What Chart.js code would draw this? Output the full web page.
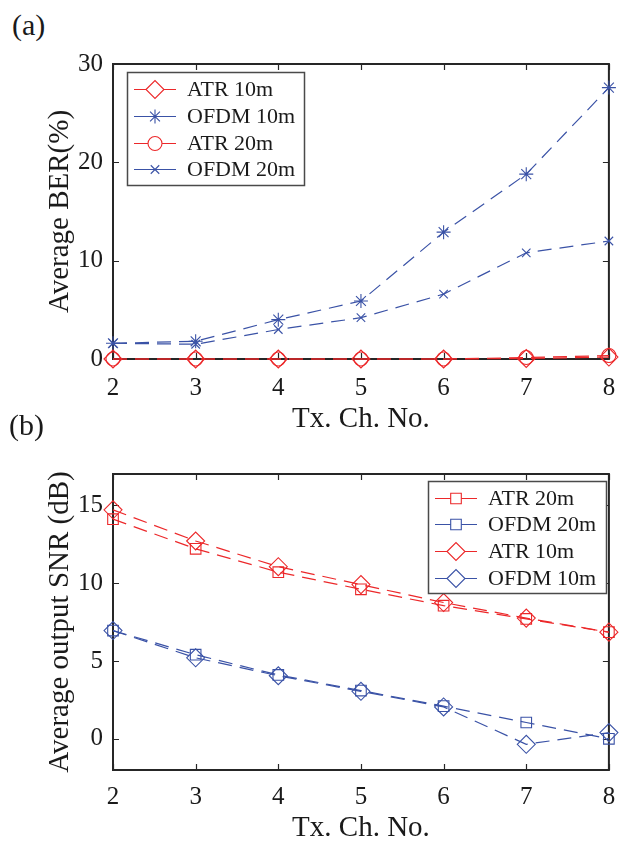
<!DOCTYPE html>
<html>
<head>
<meta charset="utf-8">
<script src="https://cdn.jsdelivr.net/npm/chart.js@4/dist/chart.umd.min.js"></script>
<style>
  html, body { margin: 0; padding: 0; background: #ffffff; }
  #wrap { position: relative; width: 619px; height: 850px; background: #fff; overflow: hidden; }
  canvas { position: absolute; left: 0; }
  .lbl { position: absolute; font-family: 'Liberation Serif', 'Times New Roman', serif; font-size: 30px; color: #1a1a1a; line-height: 1; }
</style>
</head>
<body>
<div id="wrap">
  <div class="lbl" style="left:12px; top:10px;">(a)</div>
  <canvas id="c1" width="619" height="440" style="top:0px;"></canvas>
  <div class="lbl" style="left:9px; top:410px;">(b)</div>
  <canvas id="c2" width="619" height="410" style="top:440px;"></canvas>
</div>
<script>
// ---------- DATA ----------
const channels = [2, 3, 4, 5, 6, 7, 8];
const xTicks = [2, 3, 4, 5, 6, 7, 8];

// (a) Average BER (%)
const berAtr10  = [0, 0, 0, 0, 0, 0.05, 0.2];
const berOfdm10 = [1.6, 1.8, 4.0, 5.9, 12.9, 18.8, 27.6];
const berAtr20  = [0, 0, 0, 0, 0, 0.15, 0.35];
const berOfdm20 = [1.6, 1.5, 3.0, 4.2, 6.6, 10.8, 12.0];
const berTicks  = [0, 10, 20, 30];

// (b) Average output SNR (dB)
const snrAtr20  = [14.1, 12.2, 10.7, 9.6, 8.55, 7.7, 6.85];
const snrOfdm20 = [6.95, 5.4, 4.1, 3.1, 2.1, 1.05, 0.0];
const snrAtr10  = [14.7, 12.7, 11.05, 9.9, 8.75, 7.75, 6.85];
const snrOfdm10 = [6.95, 5.2, 4.05, 3.05, 2.05, -0.35, 0.4];
const snrTicks  = [0, 5, 10, 15];

// ---------- STYLE ----------
const RED = 'rgb(236,40,42)';
const BLUE = 'rgb(58,82,166)';
const AXIS = '#262626';
const FONT = "'Liberation Serif', 'Times New Roman', serif";

function pts(arr) { return arr.map((v, i) => ({ x: channels[i], y: v })); }

function ds(label, data, color, style, radius) {
  return {
    label: label,
    data: pts(data),
    borderColor: color,
    backgroundColor: 'rgba(0,0,0,0)',
    borderWidth: 1.2,
    borderDash: [14, 8],
    pointStyle: style,
    pointRadius: radius,
    pointHoverRadius: radius,
    pointBorderColor: color,
    pointBackgroundColor: 'rgba(0,0,0,0)',
    pointBorderWidth: 1.1,
    tension: 0,
    fill: false,
    clip: false
  };
}

// MATLAB-like box with inward ticks
const boxPlugin = {
  id: 'boxPlugin',
  beforeDatasetsDraw(chart) {
    const { ctx, chartArea: a, scales } = chart;
    const tl = 6;
    ctx.save();
    ctx.strokeStyle = AXIS;
    ctx.lineWidth = 1.2;
    ctx.beginPath();
    scales.x.ticks.forEach(t => {
      const px = Math.round(scales.x.getPixelForValue(t.value)) + 0.5;
      ctx.moveTo(px, a.bottom); ctx.lineTo(px, a.bottom - tl);
      ctx.moveTo(px, a.top); ctx.lineTo(px, a.top + tl);
    });
    scales.y.ticks.forEach(t => {
      const py = Math.round(scales.y.getPixelForValue(t.value)) + 0.5;
      ctx.moveTo(a.left, py); ctx.lineTo(a.left + tl, py);
      ctx.moveTo(a.right, py); ctx.lineTo(a.right - tl, py);
    });
    ctx.stroke();
    ctx.lineWidth = 2;
    ctx.strokeRect(a.left, a.top, a.right - a.left, a.bottom - a.top);
    ctx.restore();
  }
};

// Legend drawn inside the axes
function legendPlugin(box, rows, lineX0, lineX1, textX) {
  return {
    id: 'boxLegend',
    afterDraw(chart) {
      const { ctx } = chart;
      ctx.save();
      ctx.fillStyle = '#ffffff';
      ctx.fillRect(box.x, box.y, box.w, box.h);
      ctx.strokeStyle = '#4a4a4a';
      ctx.lineWidth = 1.5;
      ctx.strokeRect(box.x + 0.5, box.y + 0.5, box.w, box.h);
      chart.data.datasets.forEach((d, i) => {
        const y = rows[i];
        ctx.strokeStyle = d.borderColor;
        ctx.lineWidth = 1.1;
        ctx.setLineDash([]);
        ctx.beginPath();
        ctx.moveTo(lineX0, y + 0.5); ctx.lineTo(lineX1, y + 0.5);
        ctx.stroke();
        ctx.fillStyle = '#ffffff';
        Chart.helpers.drawPoint(ctx, {
          pointStyle: d.pointStyle, radius: d.pointRadius, borderWidth: d.pointBorderWidth, rotation: 0
        }, (lineX0 + lineX1) / 2, y + 0.5);
        ctx.fillStyle = '#1a1a1a';
        ctx.font = "22px " + FONT;
        ctx.textAlign = 'left';
        ctx.textBaseline = 'middle';
        ctx.fillText(d.label, textX, y + 1);
      });
      ctx.restore();
    }
  };
}

function makeOptions(yMin, yMax, yTickVals, yTitle, yAxisW, xAxisH, padTop, xTickPad, xTitlePadBottom) {
  return {
    responsive: false,
    animation: false,
    devicePixelRatio: 1,
    layout: { padding: { top: padTop, right: 4, left: 0, bottom: 0 } },
    plugins: { legend: { display: false }, tooltip: { enabled: false } },
    scales: {
      x: {
        type: 'linear', min: 2, max: 8,
        afterBuildTicks: s => { s.ticks = xTicks.map(v => ({ value: v })); },
        afterFit: s => { s.height = xAxisH; s.paddingLeft = 0; s.paddingRight = 0; },
        grid: { display: false, drawTicks: false },
        border: { display: false },
        ticks: { color: '#1a1a1a', font: { family: FONT, size: 25 }, padding: xTickPad, maxRotation: 0, autoSkip: false },
        title: { display: true, text: 'Tx. Ch. No.', color: '#1a1a1a', font: { family: FONT, size: 29 }, padding: { top: 0, bottom: xTitlePadBottom } }
      },
      y: {
        type: 'linear', min: yMin, max: yMax,
        afterBuildTicks: s => { s.ticks = yTickVals.map(v => ({ value: v })); },
        afterFit: s => { s.width = yAxisW; s.paddingTop = 0; s.paddingBottom = 0; },
        grid: { display: false, drawTicks: false },
        border: { display: false },
        ticks: { color: '#1a1a1a', font: { family: FONT, size: 25 }, padding: 10, autoSkip: false },
        title: { display: true, text: yTitle, color: '#1a1a1a', font: { family: FONT, size: 29 }, padding: { top: 43, bottom: 0 } }
      }
    }
  };
}

// ---------- CHART (a) ----------
new Chart(document.getElementById('c1'), {
  type: 'line',
  data: {
    datasets: [
      ds('ATR 10m', berAtr10, RED, 'rectRot', 9),
      ds('OFDM 10m', berOfdm10, BLUE, 'star', 7),
      ds('ATR 20m', berAtr20, RED, 'circle', 7),
      ds('OFDM 20m', berOfdm20, BLUE, 'crossRot', 6)
    ]
  },
  options: makeOptions(0, 30, berTicks, 'Average BER(%)', 113, 81, 64, 14, 3),
  plugins: [boxPlugin, legendPlugin({ x: 127, y: 72, w: 177, h: 113 }, [89, 116, 143, 169], 134, 176, 187)]
});

// ---------- CHART (b) ----------
new Chart(document.getElementById('c2'), {
  type: 'line',
  data: {
    datasets: [
      ds('ATR 20m', snrAtr20, RED, 'rect', 7.5),
      ds('OFDM 20m', snrOfdm20, BLUE, 'rect', 7.5),
      ds('ATR 10m', snrAtr10, RED, 'rectRot', 9),
      ds('OFDM 10m', snrOfdm10, BLUE, 'rectRot', 9)
    ]
  },
  options: makeOptions(-2, 17, snrTicks, 'Average output SNR (dB)', 113, 80, 34, 12, 4),
  plugins: [boxPlugin, legendPlugin({ x: 428, y: 481 - 440, w: 178, h: 112 }, [498 - 440, 524 - 440, 551 - 440, 578 - 440], 435, 477, 488)]
});
</script>
</body>
</html>
